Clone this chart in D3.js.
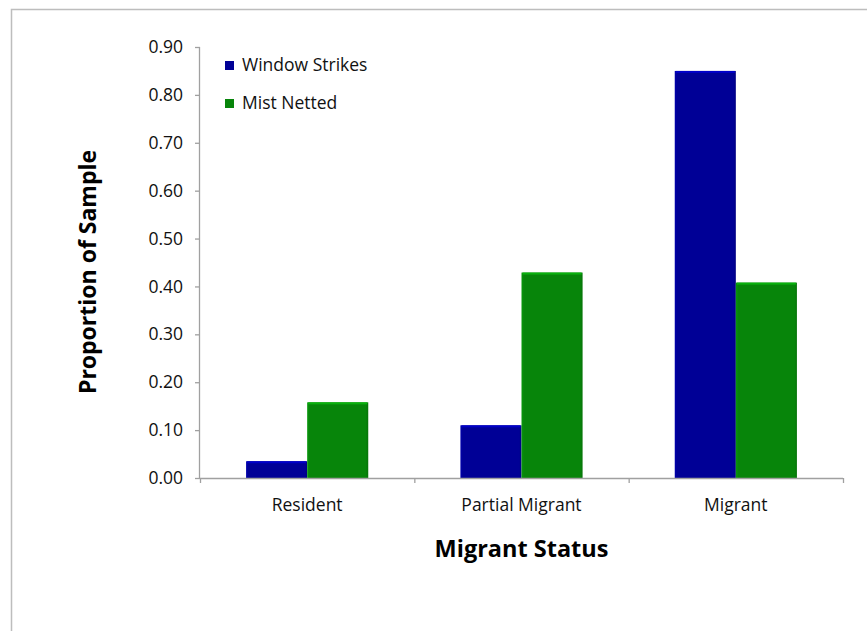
<!DOCTYPE html>
<html>
<head>
<meta charset="utf-8">
<script src="https://cdn.jsdelivr.net/npm/d3@7"></script>
<style>
  body { margin: 0; background: #fff; }
  svg { display: block; font-family: "Open Sans", "Noto Sans", sans-serif; }
</style>
</head>
<body>
<div id="chart-area"></div>
<script>
// data
const categories = ["Resident", "Partial Migrant", "Migrant"];
const seriesNames = ["Window Strikes", "Mist Netted"];
const windowStrikes = [0.035, 0.11, 0.85];
const mistNetted = [0.158, 0.429, 0.408];
const yTicks = [0, 0.1, 0.2, 0.3, 0.4, 0.5, 0.6, 0.7, 0.8, 0.9];

const colors = { "Window Strikes": "#000096", "Mist Netted": "#07850a" };

const W = 867, H = 631;
const margin = { top: 47, right: 24, bottom: 153, left: 200 };
const width = W - margin.left - margin.right;
const height = H - margin.top - margin.bottom;

const svg = d3.select("#chart-area")
  .append("svg")
  .attr("width", W)
  .attr("height", H);

// outer chart border (runs off the page right/bottom)
svg.append("rect")
  .attr("x", 11.5).attr("y", 9.5)
  .attr("width", W + 20).attr("height", H + 20)
  .attr("fill", "none")
  .attr("stroke", "#bdbdbd")
  .attr("stroke-width", 1.5);

const g = svg.append("g")
  .attr("transform", `translate(${margin.left},${margin.top})`);

// scales
const x0 = d3.scaleBand()
  .domain(categories)
  .range([0, width])
  .paddingInner(0.43)
  .paddingOuter(0.215);

const x1 = d3.scaleBand()
  .domain(seriesNames)
  .range([0, x0.bandwidth()]);

const y = d3.scaleLinear()
  .domain([0, 0.9])
  .range([height, 0]);

// gradient for slight bevel on bars
const defs = svg.append("defs");
seriesNames.forEach((s, i) => {
  const grad = defs.append("linearGradient")
    .attr("id", "grad" + i)
    .attr("x1", 0).attr("x2", 1).attr("y1", 0).attr("y2", 0);
  const c = d3.color(colors[s]);
  grad.append("stop").attr("offset", "0%").attr("stop-color", c.brighter(0.4));
  grad.append("stop").attr("offset", "4%").attr("stop-color", c);
  grad.append("stop").attr("offset", "96%").attr("stop-color", c);
  grad.append("stop").attr("offset", "100%").attr("stop-color", c.darker(0.4));
});

// build rows for grouped bars
const rows = categories.map((c, i) => ({
  cat: c,
  vals: [
    { key: "Window Strikes", v: windowStrikes[i], idx: 0 },
    { key: "Mist Netted", v: mistNetted[i], idx: 1 }
  ]
}));

const groups = g.selectAll(".grp")
  .data(rows)
  .enter().append("g")
  .attr("class", "grp")
  .attr("transform", d => `translate(${x0(d.cat)},0)`);

groups.selectAll("rect.bar")
  .data(d => d.vals)
  .enter().append("rect")
  .attr("class", "bar")
  .attr("x", d => x1(d.key))
  .attr("y", d => y(d.v))
  .attr("width", x1.bandwidth())
  .attr("height", d => height - y(d.v))
  .attr("fill", d => `url(#grad${d.idx})`);

// lighter top edge
groups.selectAll("rect.cap")
  .data(d => d.vals)
  .enter().append("rect")
  .attr("class", "cap")
  .attr("x", d => x1(d.key) + 1)
  .attr("y", d => y(d.v))
  .attr("width", x1.bandwidth() - 2)
  .attr("height", 2)
  .attr("fill", d => d3.color(colors[d.key]).brighter(0.8));

// y axis
const yAxis = d3.axisLeft(y)
  .tickValues(yTicks)
  .tickSize(5)
  .tickPadding(12)
  .tickFormat(d3.format(".2f"));

const yAxisGroup = g.append("g").attr("class", "y-axis").call(yAxis);
yAxisGroup.select(".domain").attr("d", `M-0.5,0V${height}`);

// x axis: ticks between categories (Excel style)
const xEdge = d3.scaleLinear().domain([0, categories.length]).range([0, width]);
const xAxisGroup = g.append("g")
  .attr("class", "x-axis")
  .attr("transform", `translate(0,${height})`)
  .call(d3.axisBottom(xEdge).ticks(categories.length).tickSize(5).tickFormat(""));
xAxisGroup.select(".domain").attr("d", `M0,0.5H${width}`);

g.append("g")
  .attr("transform", `translate(0,${height})`)
  .selectAll("text")
  .data(categories)
  .enter().append("text")
  .attr("x", d => x0(d) + x0.bandwidth() / 2)
  .attr("y", 33)
  .attr("text-anchor", "middle")
  .style("font-size", "17.5px")
  .style("fill", "#111")
  .text(d => d);

// axis styling
[xAxisGroup, yAxisGroup].forEach(ax => {
  ax.selectAll("line, path").style("stroke", "#a0a0a0").style("stroke-width", 1.3);
  ax.selectAll("text").style("font-size", "17.5px").style("fill", "#111")
    .style("font-family", "'Open Sans', 'Noto Sans', sans-serif");
});

// axis titles
svg.append("text")
  .attr("transform", `translate(96,272) rotate(-90)`)
  .attr("text-anchor", "middle")
  .style("font-size", "23px")
  .style("font-weight", "bold")
  .style("fill", "#000")
  .text("Proportion of Sample");

svg.append("text")
  .attr("x", margin.left + width / 2)
  .attr("y", 557)
  .attr("text-anchor", "middle")
  .style("font-size", "23.5px")
  .style("font-weight", "bold")
  .style("fill", "#000")
  .text("Migrant Status");

// legend
const legend = svg.append("g").attr("transform", "translate(225,61)");
seriesNames.forEach((s, i) => {
  const row = legend.append("g").attr("transform", `translate(0,${i * 38})`);
  row.append("rect")
    .attr("width", 9).attr("height", 9)
    .attr("fill", `url(#grad${i})`);
  row.append("text")
    .attr("x", 17).attr("y", 10)
    .style("font-size", "17.5px")
    .style("fill", "#111")
    .text(s);
});
</script>
</body>
</html>
